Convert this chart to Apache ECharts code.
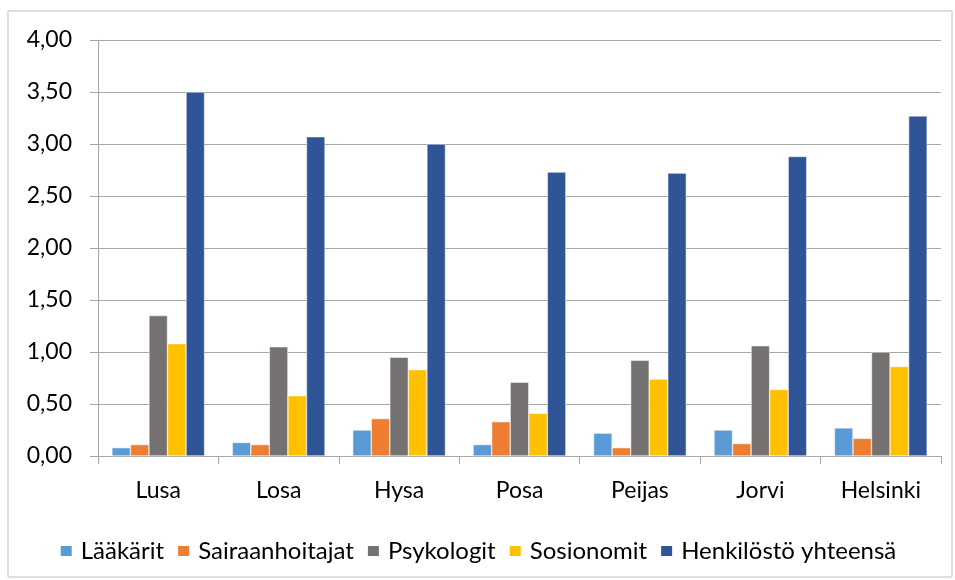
<!DOCTYPE html>
<html><head><meta charset="utf-8">
<script src="https://cdn.jsdelivr.net/npm/echarts@6/dist/echarts.min.js"></script>
<style>html,body{margin:0;padding:0;background:#fff}#c{width:955px;height:580px}</style>
</head><body><div id="c"></div>
<script>
const categories = ['Lusa','Losa','Hysa','Posa','Peijas','Jorvi','Helsinki'];
const laakarit = [0.08,0.13,0.25,0.11,0.22,0.25,0.27];
const sairaanhoitajat = [0.11,0.11,0.36,0.33,0.08,0.12,0.17];
const psykologit = [1.35,1.05,0.95,0.71,0.92,1.06,1.00];
const sosionomit = [1.08,0.58,0.83,0.41,0.74,0.64,0.86];
const yhteensa = [3.50,3.07,3.00,2.73,2.72,2.88,3.27];
const seriesNames = ['Lääkärit','Sairaanhoitajat','Psykologit','Sosionomit','Henkilöstö yhteensä'];
const colors = ['#5B9BD5','#ED7D31','#767171','#FFC000','#2F5597'];
const values = [laakarit,sairaanhoitajat,psykologit,sosionomit,yhteensa];

const font = 'Lato, "Open Sans", sans-serif';
const chart = echarts.init(document.getElementById('c'));
chart.setOption({
  animation:false,
  color:colors,
  textStyle:{fontFamily:font},
  graphic:[{type:'rect',shape:{x:8,y:11,width:944,height:566},style:{fill:'none',stroke:'#bfbfbf',lineWidth:1}}],
  legend:{top:534,left:'center',itemWidth:13,itemHeight:12,itemGap:12,icon:'rect',
    textStyle:{fontSize:24,color:'#000',fontFamily:font,padding:[0,0,0,3]},data:seriesNames},
  grid:{left:98,right:14,top:40,bottom:124},
  xAxis:{type:'category',data:categories,
    axisLine:{lineStyle:{color:'#a6a6a6'}},
    axisTick:{show:true,length:8,lineStyle:{color:'#a6a6a6'}},
    axisLabel:{fontSize:23,color:'#000',margin:23,fontFamily:font}},
  yAxis:{type:'value',min:0,max:4,interval:0.5,
    axisLine:{show:true,lineStyle:{color:'#a6a6a6'}},
    axisTick:{show:true,length:8,lineStyle:{color:'#a6a6a6'}},
    splitLine:{lineStyle:{color:'#a6a6a6'}},
    axisLabel:{fontSize:23,color:'#000',margin:26,fontFamily:font,
      formatter:v=>v.toFixed(2).replace('.',',')}},
  series:values.map((d,i)=>({name:seriesNames[i],type:'bar',data:d,
    barGap:'0%',barCategoryGap:'23%',
    itemStyle:{color:colors[i],borderColor:'#fff',borderWidth:0.5}}))
});
</script></body></html>
